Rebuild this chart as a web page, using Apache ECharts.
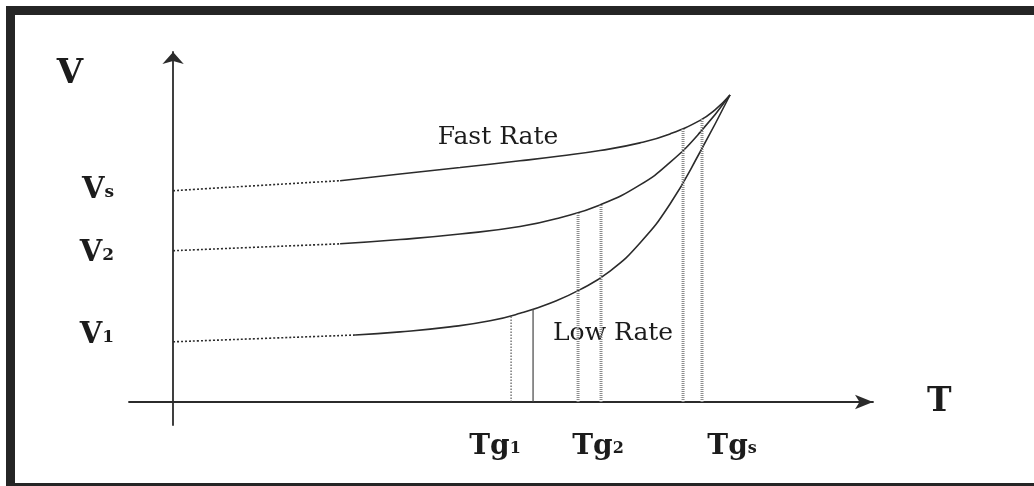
<!DOCTYPE html>
<html><head><meta charset="utf-8">
<script src="https://cdn.jsdelivr.net/npm/echarts@6/dist/echarts.min.js"></script>
<style>html,body{margin:0;padding:0;background:#fff}#c{width:1034px;height:486px}</style>
</head><body><div id="c"></div>
<script>
// ---- data (T and V in arbitrary schematic units) ----
const fastDotted = [[0, 60.37], [11, 61.71], [23.86, 63.23]];
const fastCurve  = [[23.86, 63.23], [32.43, 65.14], [41.0, 67.0], [49.57, 68.91], [55.29, 70.29], [61.0, 71.86], [66.71, 74.03], [71.0, 76.6], [75.29, 80.46], [77.43, 83.46], [79.57, 87.71]];
const midDotted  = [[0, 43.23], [23.86, 45.2]];
const midCurve   = [[23.86, 45.2], [32.43, 46.43], [41.0, 48.0], [49.57, 50.14], [55.29, 52.66], [61.0, 56.31], [66.71, 62.03], [71.0, 68.46], [75.29, 77.03], [79.57, 87.71]];
const lowDotted  = [[0, 17.2], [26.0, 19.14]];
const lowCurve   = [[26.0, 19.14], [32.43, 20.04], [39.57, 21.47], [45.29, 23.19], [49.57, 25.33], [53.86, 28.24], [58.14, 32.1], [62.43, 37.41], [66.71, 45.43], [71.0, 56.57], [75.29, 71.43], [79.57, 87.71]];

const tgLineT   = [48.29, 51.43, 57.86, 61.14, 72.86, 75.57];
const tgLineTop = [24.69, 26.6, 54.31, 56.46, 78.29, 80.83];

const vTickValues = [60.86, 42.86, 19.43];
const vTickMain   = ['V', 'V', 'V'];
const vTickSub    = ['s', '2', '1'];
const tTickValues = [46.0, 60.71, 79.86];
const tTickMain   = ['Tg', 'Tg', 'Tg'];
const tTickSub    = ['1', '2', 's'];

const noteT    = [46.43, 62.86];
const noteV    = [75.71, 19.71];
const noteText = ['Fast Rate', 'Low Rate'];

const xAxisName = 'T';
const yAxisName = 'V';

// ---- styles ----
const INK = '#2b2b2b';
const TXT = '#1c1c1c';
const SERIF = "'DejaVu Serif', 'Liberation Serif', serif";
const tgStyles = [
  {color: '#555', width: 1.2, type: [1.5, 1.5]},
  {color: '#444', width: 1.2, type: 'solid'},
  {color: '#8c8c8c', width: 3, type: [1, 1]},
  {color: '#8c8c8c', width: 3, type: [1, 1]},
  {color: '#8c8c8c', width: 3, type: [1, 1]},
  {color: '#8c8c8c', width: 3, type: [1, 1]}
];

function nearestIdx(arr, v) {
  let best = 0;
  for (let i = 1; i < arr.length; i++) if (Math.abs(arr[i] - v) < Math.abs(arr[best] - v)) best = i;
  return best;
}

const series = [];
function curve(data, dotted) {
  series.push({
    type: 'line', data: data, showSymbol: false, smooth: 0.5, silent: true,
    lineStyle: dotted ? {color: INK, width: 1.6, type: [2, 2]} : {color: INK, width: 1.6}
  });
}
curve(fastDotted, true); curve(fastCurve, false);
curve(midDotted, true);  curve(midCurve, false);
curve(lowDotted, true);  curve(lowCurve, false);

tgLineT.forEach(function (t, i) {
  series.push({
    type: 'line', data: [[t, 0], [t, tgLineTop[i]]], showSymbol: false, silent: true,
    lineStyle: tgStyles[i]
  });
});

series.push({
  type: 'scatter', symbol: 'circle', symbolSize: 0, itemStyle: {color: 'rgba(0,0,0,0)'}, silent: true,
  data: noteT.map(function (t, i) { return [t, noteV[i], noteText[i]]; }),
  label: {
    show: true, position: 'inside', formatter: function (p) { return p.data[2]; },
    fontFamily: SERIF, fontSize: 25, color: TXT, opacity: 1
  }
});

const chart = echarts.init(document.getElementById('c'), null, {renderer: 'canvas'});
chart.setOption({
  animation: false,
  backgroundColor: '#fff',
  grid: {left: 129, right: 161, top: 52, bottom: 61, containLabel: false},
  xAxis: {
    type: 'value', min: -6.3, max: 100,
    name: xAxisName, nameLocation: 'end', nameGap: 54,
    nameTextStyle: {fontFamily: SERIF, fontWeight: 'bold', fontSize: 33, color: TXT, padding: [16, 0, 0, 0]},
    axisLine: {onZero: true, symbol: ['none', 'arrow'], symbolSize: [11, 18], lineStyle: {color: INK, width: 1.8}},
    axisTick: {show: false}, splitLine: {show: false},
    axisLabel: {
      customValues: tTickValues, margin: 6,
      formatter: function (v) { const i = nearestIdx(tTickValues, v); return '{m|' + tTickMain[i] + '}{s|' + tTickSub[i] + '}'; },
      rich: {
        m: {fontFamily: SERIF, fontWeight: 'bold', fontSize: 28, color: TXT, lineHeight: 30, verticalAlign: 'bottom'},
        s: {fontFamily: SERIF, fontWeight: 'bold', fontSize: 16, color: TXT, lineHeight: 30, verticalAlign: 'bottom', padding: [0, 0, 4, 0]}
      }
    }
  },
  yAxis: {
    type: 'value', min: -6.57, max: 100,
    name: yAxisName, nameLocation: 'end', nameGap: -22,
    nameTextStyle: {fontFamily: SERIF, fontWeight: 'bold', fontSize: 34, color: TXT, align: 'right', verticalAlign: 'middle', padding: [0, 90, 0, 0]},
    axisLine: {onZero: true, symbol: ['none', 'arrow'], symbolSize: [16, 12], lineStyle: {color: INK, width: 1.8}},
    axisTick: {show: false}, splitLine: {show: false},
    axisLabel: {
      customValues: vTickValues, margin: 15,
      formatter: function (v) { const i = nearestIdx(vTickValues, v); return '{m|' + vTickMain[i] + '}{s|' + vTickSub[i] + '}'; },
      rich: {
        m: {fontFamily: SERIF, fontWeight: 'bold', fontSize: 29, color: TXT, lineHeight: 32, verticalAlign: 'bottom'},
        s: {fontFamily: SERIF, fontWeight: 'bold', fontSize: 17, color: TXT, lineHeight: 32, verticalAlign: 'bottom', padding: [0, 0, 4, 0]}
      }
    }
  },
  graphic: [
    {type: 'rect', shape: {x: 6, y: 6, width: 1028, height: 9}, style: {fill: '#252525'}, silent: true},
    {type: 'rect', shape: {x: 6, y: 6, width: 9, height: 480}, style: {fill: '#252525'}, silent: true},
    {type: 'rect', shape: {x: 6, y: 483, width: 1028, height: 3}, style: {fill: '#252525'}, silent: true}
  ],
  series: series
});
</script>
</body></html>
